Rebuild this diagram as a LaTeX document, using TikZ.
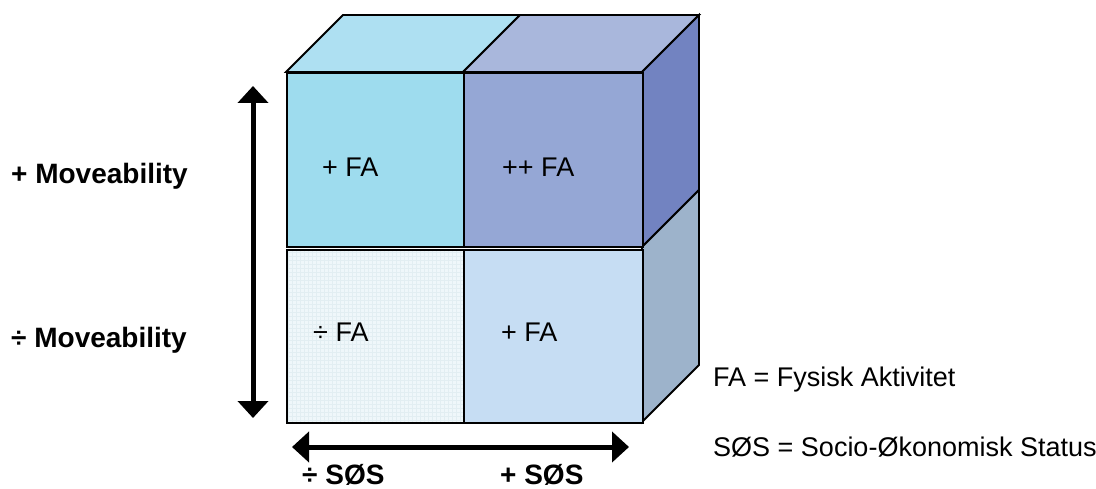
\documentclass[tikz,border=0pt]{standalone}
\usepackage{fontspec}
\setmainfont{Liberation Sans}
\usetikzlibrary{arrows.meta}
\definecolor{tlfront}{HTML}{9EDCEE}
\definecolor{tltop}{HTML}{AEE0F2}
\definecolor{trfront}{HTML}{95A7D5}
\definecolor{trtop}{HTML}{A9B7DC}
\definecolor{rup}{HTML}{7283C1}
\definecolor{rlow}{HTML}{9DB3CB}
\definecolor{blfront}{HTML}{EFF7FA}
\definecolor{blgrid}{HTML}{E2EEF2}
\definecolor{brfront}{HTML}{C6DDF3}
\tikzset{
  face/.style={draw=black, line width=1.8pt, line join=miter},
  lbl/.style={inner sep=0pt, anchor=base west, font=\fontsize{27}{31}\selectfont},
  blbl/.style={lbl, font=\fontsize{28}{32}\selectfont\bfseries},
  bigarrow/.style={line width=5pt, {Triangle[width=30pt,length=17pt]}-{Triangle[width=30pt,length=17pt]}}
}
\begin{document}
\begin{tikzpicture}[x=1pt,y=-1pt]
\useasboundingbox (0,0) rectangle (1096,489);
% top faces
\path[face, fill=tltop] (286,72) -- (343,15) -- (520,15) -- (463,72) -- cycle;
\path[face, fill=trtop] (463,72) -- (520,15) -- (699,15) -- (642,72) -- cycle;
% right faces
\path[face, fill=rup] (642,72) -- (699,15) -- (699,190) -- (642,247) -- cycle;
\path[face, fill=rlow] (642,247) -- (699,190) -- (699,365) -- (642,422) -- cycle;
% front cells
\node[face, fill=tlfront, minimum width=177pt, minimum height=174pt, inner sep=0pt, anchor=north west] (tl) at (286,72) {};
\node[face, fill=trfront, minimum width=179pt, minimum height=174pt, inner sep=0pt, anchor=north west] (tr) at (463,72) {};
\fill[blfront] (286,249) rectangle (463,422);
\begin{scope}
\clip (286,249) rectangle (463,422);
\draw[blgrid, line width=0.4pt, step=4pt] (286,249) grid (463,422);
\end{scope}
\node[face, minimum width=177pt, minimum height=173pt, inner sep=0pt, anchor=north west] (bl) at (286,249) {};
\node[face, fill=brfront, minimum width=179pt, minimum height=173pt, inner sep=0pt, anchor=north west] (br) at (463,249) {};
% cell labels
\node[lbl] (t1) at (322,176.7) {+ FA};
\node[lbl] (t2) at (502,176.7) {++ FA};
\node[lbl] (t3) at (313,341.7) {÷ FA};
\node[lbl] (t4) at (501,341.7) {+ FA};
% axis labels
\node[blbl] (m1) at (11,183.5) {+ Moveability};
\node[blbl] (m2) at (11,348) {÷ Moveability};
\node[blbl] (s1) at (302,484) {÷ SØS};
\node[blbl] (s2) at (500,484) {+ SØS};
% legend
\node[lbl] (l1) at (713,386.7) {FA = Fysisk Aktivitet};
\node[lbl] (l2) at (713,456.7) {SØS = Socio-Økonomisk Status};
% arrows
\coordinate (vtop) at (253,86);
\coordinate (vbot) at (253,418);
\coordinate (hl) at (292,447);
\coordinate (hr) at (629,447);
\draw[bigarrow] (vtop) -- (vbot);
\draw[bigarrow] (hl) -- (hr);
\end{tikzpicture}
\end{document}
